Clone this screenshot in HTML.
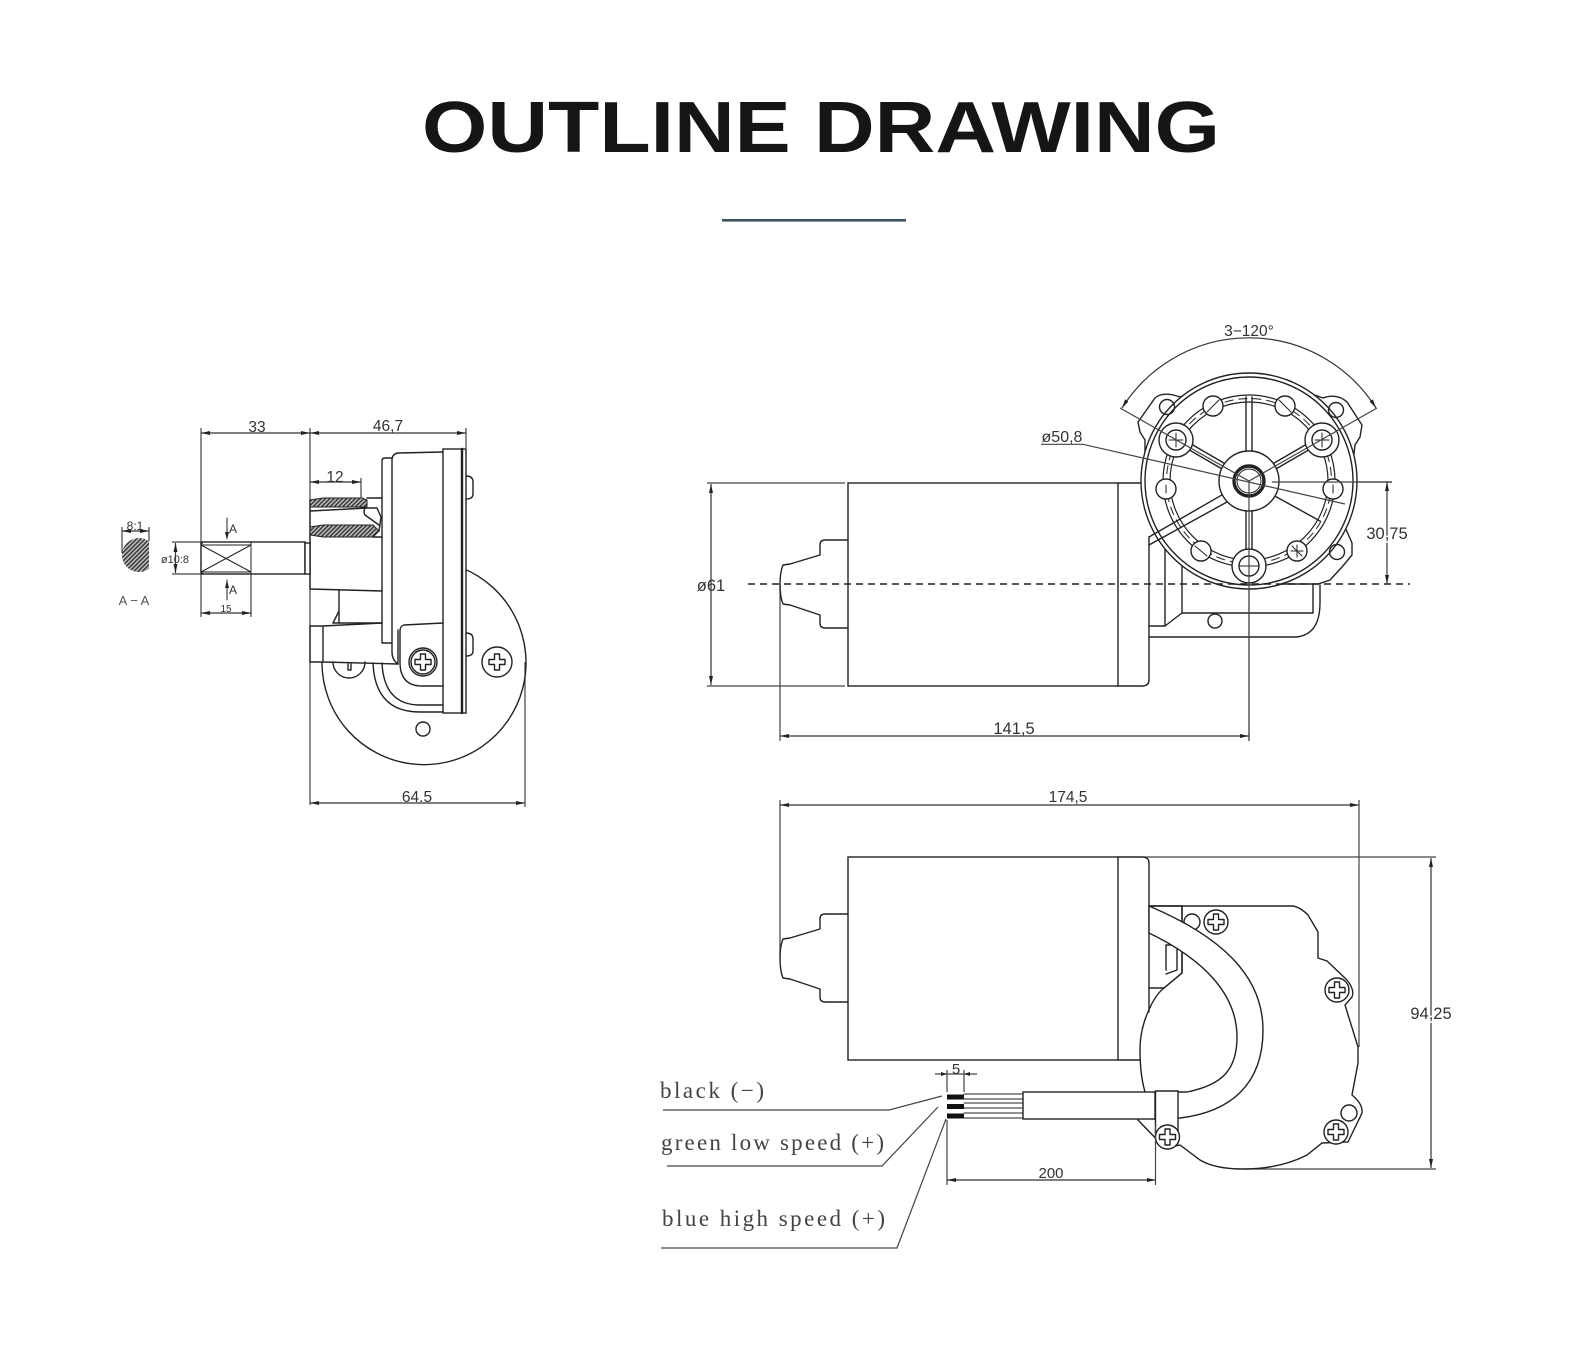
<!DOCTYPE html>
<html><head><meta charset="utf-8"><title>Outline Drawing</title>
<style>
html,body{margin:0;padding:0;background:#fff}
svg{display:block}
.l{fill:none;stroke:#222;stroke-width:1.4;stroke-linejoin:round;stroke-linecap:round}
.t{stroke-width:1}
.w{fill:#fff;stroke:#222;stroke-width:1.4}
.d{fill:none;stroke:#333;stroke-width:1.2;marker-start:url(#a);marker-end:url(#a)}
.e{fill:none;stroke:#444;stroke-width:1.2}
text{font-family:"Liberation Sans",sans-serif;fill:#333;text-anchor:middle}
.n{font-size:16.5px}
.s{font-family:"Liberation Serif",serif;font-size:23px;fill:#444;text-anchor:start}
</style></head><body>
<svg xmlns="http://www.w3.org/2000/svg" width="1588" height="1366" viewBox="0 0 1588 1366">
<defs>
<marker id="a" markerUnits="userSpaceOnUse" markerWidth="10" markerHeight="5" refX="9" refY="2.5" orient="auto-start-reverse"><path d="M9 2.5L0 0.5V4.5z" fill="#222"/></marker>
<pattern id="h" patternUnits="userSpaceOnUse" width="3" height="3" patternTransform="rotate(45)"><rect width="3" height="3" fill="#bbb"/><rect width="1.4" height="3" fill="#333"/></pattern>
<g id="p"><path class="l" d="M-2.5-8h5v5.5h5.5v5h-5.5v5.5h-5v-5.5h-5.5v-5h5.5z"/></g>
<g id="sc"><circle class="w" r="12"/><use href="#p"/></g>
</defs>
<rect width="1588" height="1366" fill="#fff"/>

<text x="821" y="152" style="font-size:72px;font-weight:bold;fill:#151515" textLength="798" lengthAdjust="spacingAndGlyphs">OUTLINE DRAWING</text>
<rect x="722" y="219" width="184" height="2.6" fill="#3c5261"/>

<!-- LEFT VIEW -->
<g>
<path class="e" d="M201 428V544M310 428V805M466 428V448M525 662V807M201 574V617M251 574V617M361 478V508"/>
<line class="d" x1="201" y1="433" x2="310" y2="433"/>
<line class="d" x1="310" y1="433" x2="466" y2="433"/>
<line class="d" x1="310" y1="482" x2="361" y2="482"/>
<line class="d" x1="201" y1="613" x2="251" y2="613"/>
<line class="d" x1="310" y1="803" x2="525" y2="803"/>
<text class="n" x="257" y="432" style="font-size:15.5px">33</text>
<text class="n" x="388" y="431" style="font-size:15.5px">46,7</text>
<text class="n" x="335" y="482" style="font-size:15.5px">12</text>
<text class="n" x="226" y="612" style="font-size:10px">15</text>
<text class="n" x="417" y="802" style="font-size:15.5px">64.5</text>

<!-- big circle -->
<path class="l" d="M462 568A102 102 0 1 1 322 663"/>
<circle class="l" cx="423" cy="729" r="7"/>
<circle class="l" cx="497" cy="662" r="15"/>
<!-- flange -->
<rect class="w" x="443" y="449" width="23" height="264"/>
<path class="l" d="M462 449V713" style="stroke-width:2.4"/>
<path class="l" d="M466 476Q473 476 473 482V494Q473 499 466 499M466 633Q473 633 473 639V651Q473 656 466 656"/>
<!-- body -->
<path class="l" d="M443 452L398 453Q392 454 392 460V652Q392 660 398 664"/>
<path class="l" d="M392 458H385Q382 458 382 461V643H392"/>
<!-- hollow hub -->
<path class="l" d="M310 500V589L382 591M367 498H382M310 511L367 508H377L381 517 379 531M365 508Q363 512 365 515L379 525M373 537H382M382 623H333"/>
<path d="M310 500L323 498H362L367 500V507H310z" fill="url(#h)" stroke="#222" stroke-width="1"/>
<path d="M310 527L323 525H373L379 531 373 537H323L310 535z" fill="url(#h)" stroke="#222" stroke-width="1"/>
<path class="l" d="M339 590V623M339 611L333 623"/>
<!-- shaft -->
<rect class="w" x="201" y="542" width="104" height="32"/>
<rect class="w" x="305" y="543" width="5" height="31"/>
<path class="l t" d="M201 545H251M201 572H251M251 542V574M201 545L251 572M201 572L251 545M201 545L203 542M201 572L203 574"/>
<!-- lower connector -->
<path class="l" d="M310 626H323L382 623M310 626V662H323M323 626V662L398 664"/>
<path class="l" d="M333 662A16 16 0 0 0 365 662M348 664V670H351V664"/>
<path class="l" d="M373 663Q375 712 420 712H443M382 663Q384 705 420 705H443"/>
<path class="l" d="M443 623L404 625Q400 626 400 631V662Q400 686 422 686H443M398 630V664"/>
<circle class="l" cx="423" cy="662" r="14"/><circle class="l" cx="423" cy="662" r="12"/><use href="#p" x="423" y="662"/>
<use href="#p" x="497" y="662"/>
<!-- A-A -->
<path class="e" d="M172 542H201M172 574H201"/>
<line class="d" x1="175.500" y1="543" x2="175.500" y2="573"/>
<text x="175" y="563" style="font-size:11px">ø10:8</text>
<path class="l t" d="M227 518V538M227 580V600"/>
<path d="M227 540l-2-8h4zM227 580l-2 8h4z" fill="#222"/>
<text x="233" y="533" style="font-size:12px">A</text>
<text x="233" y="594" style="font-size:12px">A</text>
<path d="M149 541.3A17 17 0 1 0 149 568.7z" fill="url(#h)"/>
<path class="e" d="M122 527V553M149 527V541"/>
<line class="d" x1="122" y1="531" x2="149" y2="531"/>
<text x="135" y="530" style="font-size:12px">8:1</text>
<text x="134" y="605" style="font-size:13px;fill:#555">A − A</text>
</g>

<!-- TOP RIGHT VIEW -->
<g>
<path class="e" d="M707 483H845M707 686H845M1392 482H1290M780 584V741M1249 490V741"/>
<line class="d" x1="711" y1="484" x2="711" y2="685"/>
<line class="d" x1="780" y1="736" x2="1249" y2="736"/>
<line class="d" x1="1387" y1="482" x2="1387" y2="584"/>
<text class="n" x="711" y="591">ø61</text>
<text class="n" x="1014" y="734">141,5</text>
<text class="n" x="1387" y="539" style="paint-order:stroke;stroke:#fff;stroke-width:3px">30,75</text>
<text class="n" x="1062" y="442" style="font-size:16px">ø50,8</text>
<text class="n" x="1249" y="336" style="font-size:15.5px">3−120°</text>

<rect class="w" x="848" y="483" width="270" height="203"/>
<path class="l" d="M1118 483H1141M1118 686H1142Q1149 686 1149 680V537"/>
<path class="l" d="M848 540H825Q820 540 820 545V555L790 564 783 565Q780 572 780 584 780 597 783 604L790 605 820 615V623Q820 628 825 628H848"/>
<path class="l" d="M1165 525V626L1182 613H1313V567M1182 563V613M1149 626H1165M1149 637H1297Q1320 634 1320 603V585"/>
<circle class="l" cx="1215" cy="621" r="7"/>

<!-- flange -->
<path class="w" d="M1145 440L1140 432 1138 422 1155 398Q1163 391 1180 397L1200 390H1300L1323 398Q1337 393 1347 402L1362 425 1360 437 1355 445 1345 527 1352 543V555L1342 567 1330 580 1318 584H1249L1145 481z"/>
<circle class="w" cx="1249" cy="481" r="108"/>
<circle class="l" cx="1249" cy="481" r="104"/>
<circle class="l" cx="1167" cy="407" r="7.5"/><circle class="l" cx="1336" cy="410" r="7.5"/><circle class="l" cx="1337" cy="552" r="7.5"/>
<circle class="l" style="stroke-width:1.2" cx="1249" cy="481" r="86"/><circle class="l" style="stroke-width:1.2" cx="1249" cy="481" r="79"/>
<circle cx="1249" cy="481" r="82.500" fill="none" stroke="#333" stroke-width="1.1" stroke-dasharray="9 5"/>
<!-- spokes -->
<path class="l" d="M1246 397V451M1252 397V451M1246 511V550M1252 511V550M1224.5 463.4L1190 443.4M1221.5 468.6L1187 448.6M1273.5 463.4L1308 443.4M1276.5 468.6L1311 448.6M1149 537L1223 494.3M1149 545L1227 502M1273 495L1320 521"/>
<circle class="w" cx="1213" cy="406" r="10"/><circle class="w" cx="1285" cy="406" r="10"/>
<circle class="w" cx="1166" cy="489" r="10"/><circle class="w" cx="1333" cy="489" r="10"/>
<circle class="w" cx="1201" cy="551" r="10"/><circle class="w" cx="1297" cy="551" r="10"/>
<path class="l t" d="M1207 412L1219 400M1279 400L1291 412M1166 485V493M1333 485V493M1195 546L1207 556M1291 551H1303M1297 545V557M1292 546L1302 556"/>
<circle class="w" cx="1176" cy="440" r="17"/><circle class="l" cx="1176" cy="440" r="10"/>
<circle class="w" cx="1322" cy="440" r="17"/><circle class="l" cx="1322" cy="440" r="10"/>
<circle class="w" cx="1249" cy="566" r="17"/><circle class="l" cx="1249" cy="566" r="10"/>
<path class="l t" d="M1176 433V447M1169 440H1183M1322 433V447M1315 440H1329M1239 566H1259"/>
<circle class="w" cx="1249" cy="481" r="30"/>
<circle cx="1249" cy="481" r="15" fill="#fff" stroke="#222" stroke-width="3.4"/>
<circle class="l t" cx="1249" cy="481" r="12"/>
<!-- ext lines -->
<path class="e" d="M1120 408L1249 481 1377 408M1041 444.3H1083L1345 504M1249 481V741M1272 482H1392"/>
<path class="d" d="M1122 408A150 150 0 0 1 1376 408"/>
<line x1="748" y1="584" x2="1410" y2="584" stroke="#222" stroke-width="1.4" stroke-dasharray="7 5"/>
</g>

<!-- BOTTOM VIEW -->
<g>
<path class="e" d="M780 800V958M1359 800V1047M1143 857H1436M1243 1169H1436"/>
<line class="d" x1="780" y1="805" x2="1359" y2="805"/>
<line class="d" x1="1431" y1="858" x2="1431" y2="1168"/>
<text class="n" x="1068" y="802" style="font-size:15.5px">174,5</text>
<text class="n" x="1431" y="1019" style="paint-order:stroke;stroke:#fff;stroke-width:3px">94,25</text>

<path class="w" d="M1149 906H1293Q1300 907 1308 915L1318 932V958L1327 961 1347 980Q1355 990 1352 997L1345 1005 1358 1047V1063L1352 1095Q1363 1104 1362 1113L1348 1142 1322 1143 1307 1155Q1280 1169 1243 1169 1215 1169 1200 1160L1180 1145 1165 1148 1138 1120 1145 1092Q1140 1075 1140 1050 1140 1030 1148 1012 1155 995 1164 988L1182 973V906z"/>
<rect class="w" x="848" y="857" width="270" height="203"/>
<path class="l" d="M1118 857H1142Q1149 857 1149 863V1012M1118 1060H1140"/>
<path class="l" d="M848 914H825Q820 914 820 919V929L790 938 783 939Q780 946 780 958 780 971 783 978L790 979 820 989V997Q820 1002 825 1002H848"/>
<path class="l" d="M1149 906H1182V973L1164 988H1149M1166 945V970M1177 947V970L1166 974M1166 945H1177"/>
<circle class="l" cx="1192" cy="922" r="8"/>
<!-- wire -->
<path class="w" d="M1149 906C1220 936 1263 975 1263 1030 1263 1085 1230 1112 1180 1118L1155 1119V1092H1187C1222 1085 1237 1070 1237 1037 1237 995 1205 960 1149 933z"/>
<use href="#sc" x="1216" y="922"/>
<use href="#sc" x="1337" y="990"/>
<use href="#sc" x="1336" y="1132"/>
<circle class="l" cx="1349" cy="1113" r="8"/>

<!-- sheath -->
<rect class="w" x="1023" y="1092" width="132" height="27"/>
<path class="l t" d="M964 1094H1023M964 1099H1023M964 1103H1023M964 1108H1023M964 1113H1023M964 1118H1023"/>
<path d="M947 1094.5H964V1099.5H947zM947 1104H964V1109H947zM947 1113.5H964V1118.5H947z" fill="#111"/>
<path class="w" d="M1155.5 1091H1178V1137H1155.5z"/>
<use href="#sc" x="1167.5" y="1137"/>
<path class="e" d="M1155.5 1125V1185M947 1120V1185M947 1070V1092M964 1070V1092"/>
<line class="d" x1="947" y1="1180" x2="1156" y2="1180"/>
<path class="e" d="M935 1074H977"/>
<path d="M947 1074l-6-2v4zM964 1074l6-2v4z" fill="#222"/>
<text class="n" x="956" y="1074" style="font-size:15px">5</text>
<text class="n" x="1051" y="1178" style="font-size:15px">200</text>
<!-- leaders -->
<path class="e" d="M663 1110H889L942 1096M667 1166H882L938 1107M661 1248H897L946 1119"/>
<text class="s" x="660" y="1098" textLength="104">black (−)</text>
<text class="s" x="661" y="1150" textLength="223">green low speed (+)</text>
<text class="s" x="662" y="1226" textLength="223">blue high speed (+)</text>
</g>
</svg>
</body></html>
